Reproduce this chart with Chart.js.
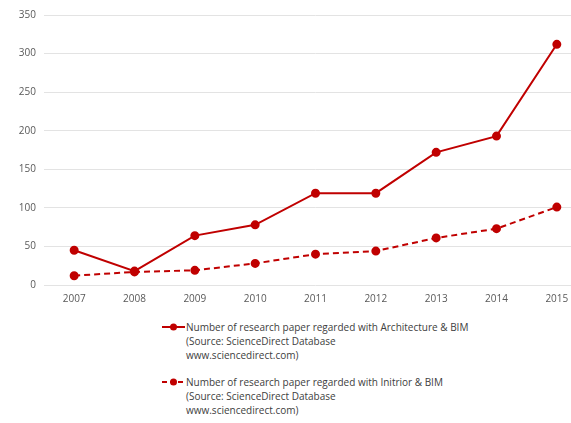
<!DOCTYPE html>
<html><head><meta charset="utf-8">
<script src="https://cdn.jsdelivr.net/npm/chart.js@4/dist/chart.umd.min.js"></script>
<style>
html,body{margin:0;padding:0;background:#fff;width:571px;height:423px;overflow:hidden;font-family:"Open Sans","Noto Sans",sans-serif;}
#wrap{position:absolute;left:0;top:0;width:600px;height:310px;}
.leg{position:absolute;left:162px;font-size:10px;line-height:14px;color:#404040;}
.leg svg{position:absolute;left:0;top:2px;}
.leg .t{margin-left:24px;white-space:nowrap;}
</style></head><body>
<div id="wrap"><canvas id="c"></canvas></div>
<div class="leg" id="l1" style="top:320px"></div>
<div class="leg" id="l2" style="top:375px"></div>
<script>
const categories = ["2007","2008","2009","2010","2011","2012","2013","2014","2015"];
const architectureBIM = [45, 18, 64, 78, 119, 119, 172, 193, 312];
const interiorBIM = [12, 17, 19, 28, 40, 44, 61, 73, 101];
const yTicks = [0, 50, 100, 150, 200, 250, 300, 350];
const seriesLabels = [
  ["Number of research paper regarded with Architecture & BIM", "(Source: ScienceDirect Database", "www.sciencedirect.com)"],
  ["Number of research paper regarded with Initrior & BIM", "(Source: ScienceDirect Database", "www.sciencedirect.com)"]
];
const red = "#C00000";

new Chart(document.getElementById("c"), {
  type: "line",
  data: {
    labels: categories,
    datasets: [
      {label: seriesLabels[0].join(" "), data: architectureBIM, borderColor: red, backgroundColor: red,
       borderWidth: 2, pointRadius: 3.5, pointBackgroundColor: red, pointBorderColor: red, tension: 0},
      {label: seriesLabels[1].join(" "), data: interiorBIM, borderColor: red, backgroundColor: red,
       borderWidth: 2, borderDash: [6, 4], pointRadius: 3.5, pointBackgroundColor: red, pointBorderColor: red, tension: 0}
    ]
  },
  options: {
    responsive: true, maintainAspectRatio: false, animation: false,
    layout: {padding: {top: 15, right: 13, left: 0, bottom: 0}},
    plugins: {legend: {display: false}, tooltip: {enabled: false}},
    scales: {
      x: {
        offset: true,
        grid: {display: false, drawTicks: false},
        border: {display: false},
        ticks: {color: "#595959", font: {size: 10, family: "Open Sans"}, padding: 8, maxRotation: 0},
        afterFit: s => { s.height = 25; }
      },
      y: {
        min: 0, max: 350,
        afterBuildTicks: s => { s.ticks = yTicks.map(v => ({value: v})); },
        grid: {color: "#e3e3e3", lineWidth: 1, drawTicks: false},
        border: {display: false},
        ticks: {color: "#595959", font: {size: 10, family: "Open Sans"}, padding: 8},
        afterFit: s => { s.width = 44; }
      }
    }
  }
});

function marker(dashed){
  return '<svg width="24" height="10"><line x1="0" y1="5" x2="23" y2="5" stroke="'+red+'" stroke-width="2"' +
    (dashed ? ' stroke-dasharray="5,3"' : '') + '/><circle cx="11.5" cy="5" r="3.5" fill="'+red+'"/></svg>';
}
[["l1", false], ["l2", true]].forEach((p, i) => {
  document.getElementById(p[0]).innerHTML = marker(p[1]) + seriesLabels[i].map(t => '<div class="t">' + t.replace(/&/g, "&amp;") + '</div>').join("");
});
</script>
</body></html>
